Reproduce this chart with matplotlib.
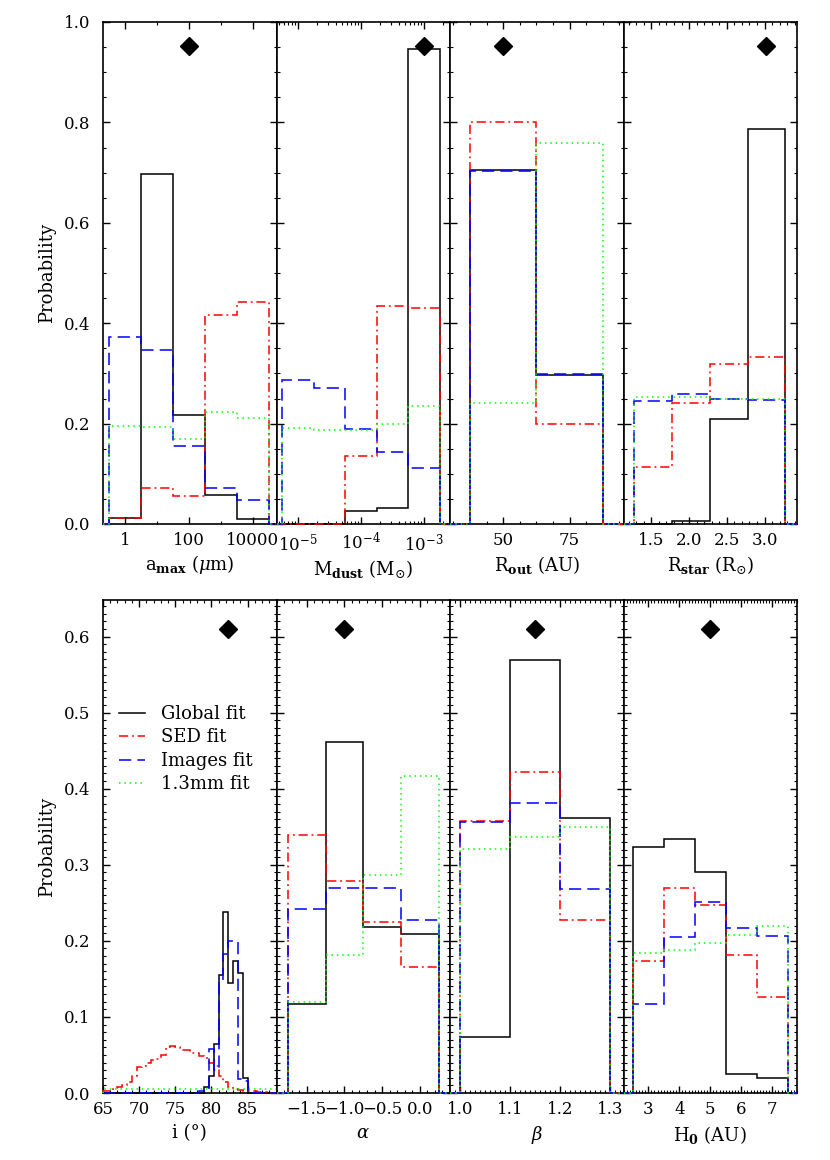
import numpy as np
import matplotlib.pyplot as plt
from matplotlib.ticker import FixedLocator, MultipleLocator, FuncFormatter, NullFormatter
from matplotlib.lines import Line2D

plt.rcParams['font.family'] = 'DejaVu Serif'
plt.rcParams['mathtext.fontset'] = 'dejavuserif'

# ---- data ----
fit_names = ["Global fit", "SED fit", "Images fit", "1.3mm fit"]

# a_max (micron), bins one decade wide centred on 1..1e4
amax_edges = [0.316, 3.16, 31.6, 316, 3162, 31623]
amax_global = [0.012, 0.697, 0.218, 0.058, 0.009]
amax_sed = [0.012, 0.071, 0.055, 0.416, 0.443]
amax_img = [0.372, 0.346, 0.155, 0.071, 0.048]
amax_mm = [0.195, 0.193, 0.169, 0.224, 0.212]

# M_dust (M_sun)
mdust_edges = [5.6e-6, 1.78e-5, 5.6e-5, 1.78e-4, 5.6e-4, 1.78e-3]
mdust_global = [0.0, 0.0, 0.025, 0.031, 0.946]
mdust_sed = [0.0, 0.0, 0.136, 0.435, 0.430]
mdust_img = [0.287, 0.270, 0.189, 0.144, 0.111]
mdust_mm = [0.192, 0.188, 0.188, 0.200, 0.235]

# R_out (AU)
rout_edges = [37.5, 62.5, 87.5]
rout_global = [0.705, 0.297]
rout_sed = [0.801, 0.200]
rout_img = [0.703, 0.298]
rout_mm = [0.242, 0.759]

# R_star (R_sun)
rstar_edges = [1.275, 1.775, 2.275, 2.775, 3.275]
rstar_global = [0.0, 0.005, 0.210, 0.786]
rstar_sed = [0.113, 0.241, 0.319, 0.333]
rstar_img = [0.245, 0.258, 0.250, 0.248]
rstar_mm = [0.252, 0.252, 0.250, 0.250]

# inclination (deg), 36 bins of 2/3 deg from 65 to 89
incl_edges = np.linspace(65, 89, 37)
incl_global = [0, 0, 0, 0, 0, 0, 0, 0, 0, 0, 0, 0, 0, 0, 0, 0, 0, 0, 0, 0, 0,
               0.008, 0.022, 0.065, 0.155, 0.238, 0.145, 0.174, 0.158, 0.020,
               0, 0, 0, 0, 0, 0]
incl_sed = [0.003, 0.003, 0.006, 0.008, 0.010, 0.015, 0.022, 0.034, 0.036, 0.040,
            0.043, 0.045, 0.050, 0.060, 0.062, 0.061, 0.057, 0.056, 0.053, 0.052,
            0.048, 0.046, 0.040, 0.036, 0.022, 0.015, 0.008, 0.005, 0.004, 0.003,
            0.002, 0.002, 0.001, 0.001, 0.000, 0.000]
incl_img = [0, 0, 0, 0, 0, 0, 0, 0, 0, 0, 0, 0, 0, 0, 0, 0, 0, 0, 0, 0,
            0.003, 0.005, 0.058, 0.030, 0.148, 0.183, 0.200, 0.200, 0.018, 0.016,
            0.003, 0, 0, 0, 0, 0]
incl_mm = [0.005, 0.005, 0.005, 0.005, 0.005, 0.005, 0.005, 0.005, 0.005, 0.005,
           0.005, 0.005, 0.005, 0.005, 0.005, 0.005, 0.005, 0.005, 0.005, 0.005,
           0.005, 0.005, 0.005, 0.005, 0.005, 0.005, 0.005, 0.005, 0.005, 0.005,
           0.005, 0.005, 0.005, 0.005, 0.005, 0.005]

# alpha
alpha_edges = [-1.75, -1.25, -0.75, -0.25, 0.25]
alpha_global = [0.117, 0.462, 0.218, 0.209]
alpha_sed = [0.339, 0.278, 0.225, 0.166]
alpha_img = [0.242, 0.269, 0.269, 0.227]
alpha_mm = [0.120, 0.182, 0.286, 0.417]

# beta
beta_edges = [1.0, 1.1, 1.2, 1.3]
beta_global = [0.073, 0.569, 0.362]
beta_sed = [0.357, 0.422, 0.228]
beta_img = [0.356, 0.381, 0.268]
beta_mm = [0.321, 0.337, 0.349]

# H_0 (AU)
h0_edges = [2.5, 3.5, 4.5, 5.5, 6.5, 7.5]
h0_global = [0.323, 0.334, 0.290, 0.025, 0.020]
h0_sed = [0.173, 0.269, 0.247, 0.182, 0.126]
h0_img = [0.117, 0.205, 0.251, 0.217, 0.207]
h0_mm = [0.184, 0.188, 0.197, 0.208, 0.219]

# best-fit values (diamonds)
best_top = [100, 1e-3, 50, 3.025]
best_bottom = [82.3, -1.0, 1.15, 5.0]

# ---- styles ----
styles = [
    dict(color='black', linestyle='-'),
    dict(color='red', linestyle=(0, (6, 2.5, 1.2, 2.5))),
    dict(color='blue', linestyle=(0, (8, 4))),
    dict(color='#00ff00', linestyle=(0, (1, 2.5))),
]

W, H = 830, 1160
fig = plt.figure(figsize=(W / 100, H / 100), dpi=100)
xb = [103, 276.5, 450, 623.5, 797]


def make_ax(i, y0, y1):
    return fig.add_axes([xb[i] / W, 1 - y1 / H, (xb[i + 1] - xb[i]) / W, (y1 - y0) / H])


def draw(ax, edges, series, xlim, best, ybest):
    for vals, st in zip(series, styles):
        e = np.r_[xlim[0], edges, xlim[1]]
        v = np.r_[0, vals, 0]
        ax.stairs(v, e, baseline=None, lw=1.1, zorder=3, clip_on=False, **st)
    ax.plot(best, ybest, marker='D', color='k', ms=9, ls='none', zorder=4)
    ax.set_xlim(xlim)


def style_ax(ax, first):
    ax.tick_params(which='both', direction='in', top=True, right=True, labelsize=12, pad=6)
    ax.tick_params(axis='y', pad=9)
    ax.tick_params(which='major', length=5, width=1)
    ax.tick_params(which='minor', length=2.5, width=0.8)
    for s in ax.spines.values():
        s.set_linewidth(1.2)
    if not first:
        ax.tick_params(labelleft=False)


top = [
    (amax_edges, [amax_global, amax_sed, amax_img, amax_mm], (0.2, 5.5e4), r"a$_{\mathbf{max}}$ ($\mu$m)"),
    (mdust_edges, [mdust_global, mdust_sed, mdust_img, mdust_mm], (4.6e-6, 2.6e-3), r"M$_{\mathbf{dust}}$ (M$_{\odot}$)"),
    (rout_edges, [rout_global, rout_sed, rout_img, rout_mm], (30, 95.3), r"R$_{\mathbf{out}}$ (AU)"),
    (rstar_edges, [rstar_global, rstar_sed, rstar_img, rstar_mm], (1.13, 3.43), r"R$_{\mathbf{star}}$ (R$_{\odot}$)"),
]
bottom = [
    (incl_edges, [incl_global, incl_sed, incl_img, incl_mm], (65, 89), "i (°)"),
    (alpha_edges, [alpha_global, alpha_sed, alpha_img, alpha_mm], (-1.9, 0.4), r"$\alpha$"),
    (beta_edges, [beta_global, beta_sed, beta_img, beta_mm], (0.98, 1.326), r"$\beta$"),
    (h0_edges, [h0_global, h0_sed, h0_img, h0_mm], (2.2, 7.8), r"H$_{\mathbf{0}}$ (AU)"),
]

top_axes = []
for i, (edges, series, xlim, label) in enumerate(top):
    ax = make_ax(i, 22, 524)
    if i < 2:
        ax.set_xscale('log')
    draw(ax, edges, series, xlim, best_top[i], 0.952)
    ax.set_ylim(0, 1.0)
    ax.yaxis.set_major_locator(MultipleLocator(0.2))
    ax.yaxis.set_minor_locator(MultipleLocator(0.05))
    ax.yaxis.set_major_formatter(FuncFormatter(lambda v, p: f"{v:.1f}"))
    ax.set_xlabel(label, fontsize=13, labelpad=3)
    style_ax(ax, i == 0)
    top_axes.append(ax)

ax = top_axes[0]
ax.xaxis.set_major_locator(FixedLocator([1, 100, 1e4]))
ax.xaxis.set_minor_locator(FixedLocator([10, 1000]))
ax.xaxis.set_major_formatter(FuncFormatter(lambda v, p: f"{v:g}"))
ax.xaxis.set_minor_formatter(NullFormatter())
top_axes[2].xaxis.set_major_locator(FixedLocator([50, 75]))
top_axes[2].xaxis.set_minor_locator(MultipleLocator(6.25))
top_axes[3].xaxis.set_major_locator(MultipleLocator(0.5))
top_axes[3].xaxis.set_minor_locator(MultipleLocator(0.1))
top_axes[0].set_ylabel("Probability", fontsize=13, labelpad=6)

bot_axes = []
for i, (edges, series, xlim, label) in enumerate(bottom):
    ax = make_ax(i, 600, 1093)
    draw(ax, edges, series, xlim, best_bottom[i], 0.61)
    ax.set_ylim(0, 0.648)
    ax.yaxis.set_major_locator(MultipleLocator(0.1))
    ax.yaxis.set_minor_locator(MultipleLocator(0.01))
    ax.yaxis.set_major_formatter(FuncFormatter(lambda v, p: f"{v:.1f}"))
    ax.set_xlabel(label, fontsize=13, labelpad=4)
    style_ax(ax, i == 0)
    bot_axes.append(ax)

bot_axes[0].xaxis.set_major_locator(MultipleLocator(5))
bot_axes[0].xaxis.set_minor_locator(MultipleLocator(1))
bot_axes[1].xaxis.set_major_locator(MultipleLocator(0.5))
bot_axes[1].xaxis.set_minor_locator(MultipleLocator(0.1))
bot_axes[2].xaxis.set_major_locator(MultipleLocator(0.1))
bot_axes[2].xaxis.set_minor_locator(MultipleLocator(0.01))
bot_axes[3].xaxis.set_major_locator(MultipleLocator(1))
bot_axes[3].xaxis.set_minor_locator(MultipleLocator(0.1))
bot_axes[0].set_ylabel("Probability", fontsize=13, labelpad=6)

handles = [Line2D([], [], lw=1.1, **st) for st in styles]
bot_axes[0].legend(handles, fit_names, loc='upper left', bbox_to_anchor=(0.0, 0.82),
                   frameon=False, fontsize=13, handlelength=1.4, handletextpad=0.9,
                   labelspacing=0.3)

fig.savefig("out.png", dpi=100)
